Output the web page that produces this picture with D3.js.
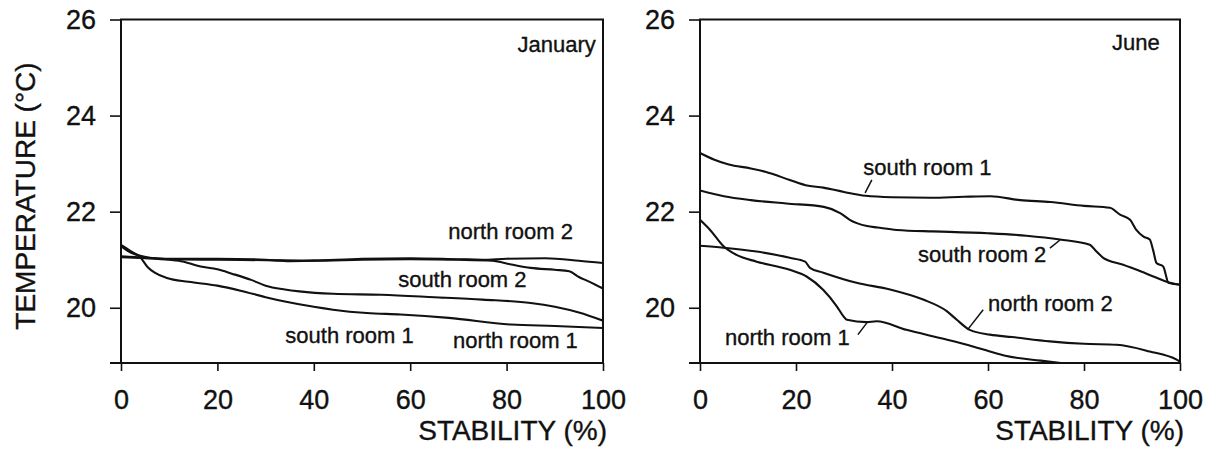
<!DOCTYPE html>
<html>
<head>
<meta charset="utf-8">
<script src="https://cdn.jsdelivr.net/npm/d3@7"></script>
<style>
  body { margin: 0; background: #fff; }
  svg text { font-family: "Liberation Sans", Arial, sans-serif; fill: #111; stroke: #111; stroke-width: 0.35px; }
  .tick text { font-size: 27px; }
  .room { font-size: 22px; }
  .axis-name { font-size: 28px; }
</style>
</head>
<body>
<div id="chart"></div>
<script>
// Data: [stability %, temperature °C]
const yTicks = [20, 22, 24, 26];
const xTicks = [0, 20, 40, 60, 80, 100];

const janNorthRoom2 = [[0, 21.07], [5, 21.04], [10, 21.02], [20, 21.02], [30, 21.0], [35, 20.97], [40, 20.98], [50, 21.02], [60, 21.03], [70, 21.01], [75, 21.0], [80, 21.02], [88, 21.03], [95, 20.98], [100, 20.93]];
const janSouthRoom2 = [[0, 21.28], [2, 21.15], [4, 21.08], [6, 21.04], [10, 21.01], [20, 21.0], [30, 20.99], [40, 20.98], [50, 21.0], [60, 21.01], [70, 21.0], [77, 20.98], [81, 20.9], [85, 20.83], [90, 20.79], [93, 20.76], [95, 20.64], [97, 20.55], [100, 20.4]];
const janNorthRoom1 = [[0, 21.05], [5, 21.03], [10, 21.0], [12, 20.98], [16.5, 20.86], [20, 20.8], [23, 20.71], [27, 20.58], [30, 20.46], [34, 20.38], [37, 20.34], [44, 20.29], [54, 20.27], [65, 20.22], [75, 20.17], [85, 20.1], [90, 20.02], [95, 19.9], [100, 19.73]];
const janSouthRoom1 = [[0, 21.31], [2, 21.18], [4, 21.05], [5.5, 20.85], [7, 20.73], [9.5, 20.62], [14, 20.54], [20, 20.46], [25, 20.35], [30, 20.22], [34, 20.13], [40, 20.02], [44, 19.96], [51, 19.89], [58, 19.86], [68, 19.79], [81, 19.65], [90, 19.62], [100, 19.58]];

const junSouthRoom1 = [[0, 23.22], [3, 23.08], [6, 22.98], [10.6, 22.9], [13.6, 22.83], [18.7, 22.66], [22, 22.55], [25.7, 22.5], [30, 22.41], [34.5, 22.33], [40, 22.3], [48, 22.29], [55, 22.31], [60.5, 22.32], [66.7, 22.24], [73, 22.2], [80, 22.12], [85.4, 22.08], [87.5, 21.94], [89.6, 21.83], [90.9, 21.62], [92.4, 21.48], [93.7, 21.42], [94.4, 21.2], [95.1, 20.93], [96.5, 20.86], [97.6, 20.52], [100, 20.48]];
const junSouthRoom2 = [[0, 22.44], [5, 22.32], [10.6, 22.24], [18, 22.17], [25.8, 22.1], [29.2, 21.97], [31.2, 21.83], [34.8, 21.7], [37, 21.67], [41, 21.62], [48.5, 21.59], [52, 21.58], [60, 21.55], [68, 21.5], [75, 21.42], [81.2, 21.31], [82.6, 21.17], [84, 21.04], [88, 20.9], [91, 20.79], [95, 20.63], [97.9, 20.52], [100, 20.48]];
const junNorthRoom1 = [[0, 21.83], [2.1, 21.62], [4.9, 21.28], [7.6, 21.1], [11.8, 20.96], [18.7, 20.79], [22.2, 20.65], [25.7, 20.37], [28.5, 20.03], [29.9, 19.82], [30.6, 19.75], [34.7, 19.7], [36.8, 19.72], [43, 19.54], [50, 19.37], [56, 19.22], [60.4, 19.09], [63.6, 19.0], [71, 18.9], [76, 18.84]];
const junNorthRoom2 = [[0, 21.29], [4.9, 21.25], [11.8, 21.17], [18.7, 21.04], [21.9, 20.96], [22.9, 20.83], [25.7, 20.73], [32.6, 20.52], [39.6, 20.38], [46.5, 20.17], [51.4, 19.93], [53.5, 19.75], [56.2, 19.54], [60.4, 19.44], [65, 19.39], [72.9, 19.3], [80, 19.25], [86.8, 19.23], [93.7, 19.09], [99.3, 18.92], [100, 18.88]];

// labels: text, anchor point [%, °C], optional leader line
const janLabels = [
  { text: 'north room 2', at: [67.9, 21.44] },
  { text: 'south room 2', at: [57.5, 20.44] },
  { text: 'south room 1', at: [34.1, 19.27] },
  { text: 'north room 1', at: [68.9, 19.17] },
];
const junLabels = [
  { text: 'south room 1', at: [34, 22.77], lead: [[35.8, 22.66], [34.4, 22.39]] },
  { text: 'south room 2', at: [45.4, 20.96], lead: [[72.9, 21.24], [75, 21.41]] },
  { text: 'north room 2', at: [60, 19.93], lead: [[59, 19.96], [55.8, 19.55]] },
  { text: 'north room 1', at: [5.2, 19.23], lead: [[32.9, 19.44], [34.8, 19.69]] },
];

const panels = [
  { month: 'January', left: 121, width: 482, series: [janNorthRoom2, janSouthRoom2, janNorthRoom1, janSouthRoom1], labels: janLabels, monthAt: [98.5, 25.32] },
  { month: 'June', left: 700, width: 480, series: [junSouthRoom1, junSouthRoom2, junNorthRoom1, junNorthRoom2], labels: junLabels, monthAt: [95.8, 25.37] },
];

const W = 1211;
const H = 455;
const plotTop = 19.5;
const height = 343.5;

const svg = d3.select('#chart').append('svg')
  .attr('width', W)
  .attr('height', H);

const y = d3.scaleLinear().domain([18.85, 26]).range([height, 0]);

panels.forEach((p, i) => {
  const x = d3.scaleLinear().domain([0, 100]).range([0, p.width]);
  const g = svg.append('g').attr('transform', `translate(${p.left}, ${plotTop})`);

  g.append('clipPath').attr('id', `clip${i}`)
    .append('rect').attr('width', p.width).attr('height', height);

  // axes
  g.append('g')
    .attr('transform', `translate(0, ${height})`)
    .call(d3.axisBottom(x).tickValues(xTicks).tickSize(8).tickPadding(19).tickSizeOuter(0))
    .call((a) => a.select('.domain').remove());

  g.append('g')
    .call(d3.axisLeft(y).tickValues(yTicks).tickSize(11).tickPadding(14).tickSizeOuter(0))
    .call((a) => a.select('.domain').remove());

  g.selectAll('.tick line').attr('stroke', '#111').attr('stroke-width', 1.6);

  // frame
  g.append('rect')
    .attr('width', p.width)
    .attr('height', height)
    .attr('fill', 'none')
    .attr('stroke', '#111')
    .attr('stroke-width', 2);
  g.append('line')
    .attr('x1', -11).attr('x2', 0)
    .attr('y1', height).attr('y2', height)
    .attr('stroke', '#111').attr('stroke-width', 2);

  const line = d3.line()
    .x((d) => x(d[0]))
    .y((d) => y(d[1]))
    .curve(d3.curveMonotoneX);

  g.append('g')
    .attr('clip-path', `url(#clip${i})`)
    .selectAll('path')
    .data(p.series)
    .join('path')
    .attr('d', line)
    .attr('fill', 'none')
    .attr('stroke', '#111')
    .attr('stroke-width', 2.1);

  g.selectAll('.room')
    .data(p.labels)
    .join('text')
    .attr('class', 'room')
    .attr('x', (d) => x(d.at[0]))
    .attr('y', (d) => y(d.at[1]))
    .text((d) => d.text);

  g.selectAll('.lead')
    .data(p.labels.filter((d) => d.lead))
    .join('line')
    .attr('class', 'lead')
    .attr('x1', (d) => x(d.lead[0][0]))
    .attr('y1', (d) => y(d.lead[0][1]))
    .attr('x2', (d) => x(d.lead[1][0]))
    .attr('y2', (d) => y(d.lead[1][1]))
    .attr('stroke', '#111')
    .attr('stroke-width', 1.5);

  g.append('text')
    .attr('class', 'room')
    .attr('text-anchor', 'end')
    .attr('x', x(p.monthAt[0]))
    .attr('y', y(p.monthAt[1]))
    .text(p.month);

  // x-axis name
  g.append('text')
    .attr('class', 'axis-name')
    .attr('text-anchor', 'end')
    .attr('x', p.width + 4)
    .attr('y', 420)
    .text('STABILITY (%)');
});

// y-axis name
svg.append('text')
  .attr('class', 'axis-name')
  .attr('text-anchor', 'middle')
  .attr('transform', `translate(35, 196) rotate(-90)`)
  .text('TEMPERATURE (°C)');
</script>
</body>
</html>
